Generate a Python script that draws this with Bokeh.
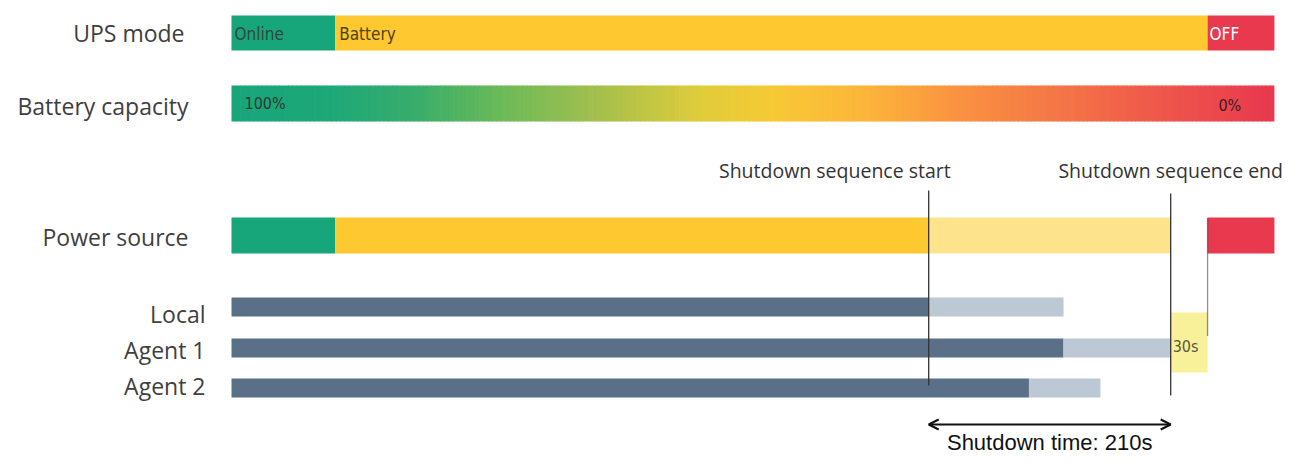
from bokeh.plotting import figure
from bokeh.models import Range1d, Arrow, OpenHead
from bokeh.core.properties import value
from bokeh.embed import file_html
from bokeh.resources import INLINE

# ---- data (seconds) ----
total_end = 905
online_end = 90
shutdown_start = 605
shutdown_end = 815
off_start = 847
shutdown_time = 210
grace = 30

agents = ["Local", "Agent 1", "Agent 2"]
agent_active_end = [605, 722, 692]
agent_shutdown_end = [722, 815, 754]

mode_labels = ["Online", "Battery", "OFF"]
capacity_labels = ["100%", "0%"]

# ---- layout ----
W, H = 1286, 458
PX_PER_S = 242 / 210.0
x0 = -231 / PX_PER_S
x1 = (W - 231) / PX_PER_S

p = figure(width=W, height=H, output_backend="svg", toolbar_location=None,
           x_range=Range1d(x0, x1), y_range=Range1d(H, 0),
           min_border=0, min_border_left=0, min_border_right=0,
           min_border_top=0, min_border_bottom=0)
p.axis.visible = False
p.grid.visible = False
p.outline_line_color = None
p.background_fill_color = "white"

GREEN = "#17a57a"
YELLOW = "#fdc830"
LYELLOW = "#fde38c"
RED = "#e8394f"
DARK = "#5a7087"
LIGHT = "#bcc8d3"
LABEL_FONT = value("Open Sans")
BAR_FONT = value("'DejaVu Sans Condensed', 'DejaVu Sans', sans-serif")

# UPS mode row
p.quad(left=[0, online_end, off_start], right=[online_end, off_start, total_end],
       bottom=50, top=15, fill_color=[GREEN, YELLOW, RED], line_color=None)
p.text(x=[0, online_end, off_start], y=[33, 33, 33], text=mode_labels,
       x_offset=[3, 4, 2], text_baseline="middle", text_font=BAR_FONT,
       text_font_size="17px", text_color=["#2f4a3c", "#4f4210", "#ffffff"])

# Battery capacity gradient
stops = [(0.00, "#17a57a"), (0.10, "#1fa878"), (0.18, "#3aad6a"), (0.26, "#6cba58"),
         (0.35, "#a3bf4d"), (0.45, "#e0cc3a"), (0.52, "#f7c935"), (0.61, "#fcb43a"),
         (0.69, "#fa9440"), (0.78, "#f47a45"), (0.88, "#ef5a4a"), (1.00, "#e8384f")]

def hx(c):
    return tuple(int(c[i:i + 2], 16) for i in (1, 3, 5))

def col_at(f):
    for (fa, ca), (fb, cb) in zip(stops[:-1], stops[1:]):
        if fa <= f <= fb:
            t = (f - fa) / (fb - fa) if fb > fa else 0
            a, b = hx(ca), hx(cb)
            return "#%02x%02x%02x" % tuple(int(round(a[k] + (b[k] - a[k]) * t)) for k in range(3))
    return stops[-1][1]

N = 240
lefts = [total_end * i / N for i in range(N)]
rights = [total_end * (i + 1) / N + 0.6 for i in range(N)]
rights[-1] = total_end
cols = [col_at((i + 0.5) / N) for i in range(N)]
p.quad(left=lefts, right=rights, bottom=121, top=85, fill_color=cols, line_color=None)
p.text(x=[0, total_end], y=[103, 105], text=capacity_labels, x_offset=[13, -56],
       text_baseline="middle", text_font=BAR_FONT, text_font_size="16px",
       text_color=["#2b3a33", "#3a2020"])

# Power source row
p.quad(left=[0, online_end, shutdown_start, off_start],
       right=[online_end, shutdown_start, shutdown_end, total_end],
       bottom=253, top=217, fill_color=[GREEN, YELLOW, LYELLOW, RED], line_color=None)

# Agents
agent_y = [306.5, 347.5, 387.5]
p.quad(left=[0] * 3, right=agent_active_end, bottom=[y + 9.5 for y in agent_y],
       top=[y - 9.5 for y in agent_y], fill_color=DARK, line_color=None)
p.quad(left=agent_active_end, right=agent_shutdown_end, bottom=[y + 9.5 for y in agent_y],
       top=[y - 9.5 for y in agent_y], fill_color=LIGHT, line_color=None)

# 30s grace box
p.quad(left=[shutdown_end], right=[off_start], top=[312], bottom=[372],
       fill_color="#f8f08e", line_color=None, fill_alpha=0.9)
p.text(x=[shutdown_end], y=[346], text=["%ds" % grace], x_offset=[2],
       text_baseline="middle", text_font=BAR_FONT, text_font_size="16px",
       text_color="#5a5a40")

# vertical markers
p.segment(x0=[shutdown_start, shutdown_end], x1=[shutdown_start, shutdown_end],
          y0=[190, 193], y1=[385, 395], line_color="#333333", line_width=1.3)
p.segment(x0=[off_start], x1=[off_start], y0=[218], y1=[335],
          line_color="#222222", line_width=1.3, line_dash="1 1")
p.text(x=[shutdown_start, shutdown_end], y=[170, 170],
       text=["Shutdown sequence start", "Shutdown sequence end"],
       x_offset=[22, 0], text_align=["right", "center"], text_baseline="middle",
       text_font=LABEL_FONT, text_font_size="19.5px", text_color="#333333")

# shutdown time arrow
p.add_layout(Arrow(start=OpenHead(size=10, line_width=2, line_color="#111111"),
                   end=OpenHead(size=10, line_width=2, line_color="#111111"),
                   x_start=shutdown_start, x_end=shutdown_end, y_start=424, y_end=424,
                   line_width=2, line_color="#111111"))
p.text(x=[(shutdown_start + shutdown_end) / 2], y=[442],
       text=["Shutdown time: %ds" % shutdown_time], text_align="center",
       text_baseline="middle", text_font=value("Liberation Sans"),
       text_font_size="22px", text_color="#111111")

# row labels
row_labels = ["UPS mode", "Battery capacity", "Power source"] + agents
row_y = [32, 105, 236, 313, 349, 385]
row_off = [-47, -43, -43, -26, -26, -26]
p.text(x=[0] * 6, y=row_y, text=row_labels, x_offset=row_off, text_align="right",
       text_baseline="middle", text_font=LABEL_FONT, text_font_size="23px",
       text_color="#404040")

open("out.html", "w").write(file_html(p, INLINE))
